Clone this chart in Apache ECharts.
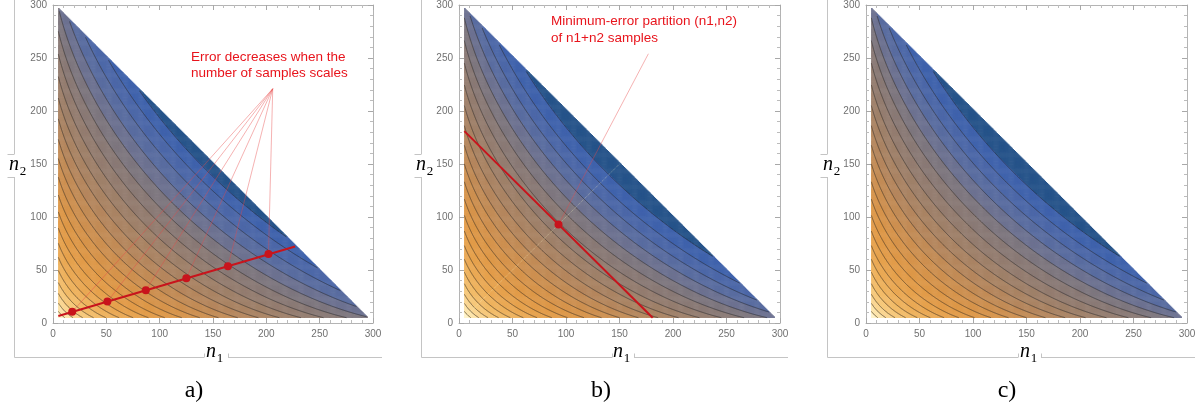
<!DOCTYPE html>
<html>
<head>
<meta charset="utf-8">
<script src="https://cdn.jsdelivr.net/npm/echarts@6/dist/echarts.min.js"></script>
<style>
html, body { margin: 0; padding: 0; background: #fff; }
#chart { width: 1203px; height: 410px; }
</style>
</head>
<body>
<div id="chart"></div>
<script>
// panel frames (pixels) and captions
var panelLeft = [53, 459, 866];
var panelWidth = [320, 321, 321];
var panelTop = 3, panelHeight = 320;
var captions = ['a)', 'b)', 'c)'];
var axisMax = 300, nMin = 5, nSum = 300;

// contour levels, read as the point where each contour crosses the diagonal n1 = n2
var diagA = [7.8, 11.1, 14.8, 18.8, 23.2, 27.9, 32.8, 38.1, 43.7, 49.5, 55.6, 61.9, 68.4, 75.3, 82.3, 89.5, 97, 104.6, 112.6, 120.7, 129, 137, 144];
var diagB = [7.8, 11, 14.5, 18.4, 22.6, 27.2, 32, 37.1, 42.5, 48.1, 54, 60.1, 66.4, 73, 79.8, 86.7, 94, 101.5, 109.1, 116.9, 124.5, 132, 140];
var diagC = [7.8, 11, 14.5, 18.4, 22.6, 27.2, 32, 37.1, 42.5, 48.1, 54, 60.1, 66.4, 73, 79.8, 86.7, 94, 101.5, 109.1, 116.9, 124.5, 132, 140];
// curvature of the contour family n1^a + n2^a = const
var shapeExp = [0.64, 0.64, 0.64];

// one colour per band, from the small-sample corner to the hypotenuse
var bandColors = ['#fff2c8', '#fde4aa', '#fad591', '#f6c87b', '#f2bc6a', '#eeb25e', '#eaa955', '#e6a24e',
    '#e29c4a', '#dd9849', '#d6944c', '#cd9051', '#c28c57', '#b5875e', '#aa8464', '#9f806a',
    '#947d70', '#8a7a76', '#7e777f', '#6d7291', '#5a6da0', '#4d68a8', '#4063ac', '#27548a'];

// panel a annotations
var lineA = [[5, 6.6], [227, 72.2]];
var dotsA = [[18, 10.5], [51, 20.2], [87, 30.8], [125, 42.1], [164, 53.6], [202, 65]];
var apexA = [206, 221];
var textA = 'Error decreases when the\nnumber of samples scales';
// panel b annotations
var lineB = [[5, 181], [181, 5]];
var dotB = [93, 93];
var apexB = [177, 254];
var diagLineB = [[5, 5], [150, 150]];
var textB = 'Minimum-error partition (n1,n2)\nof n1+n2 samples';

var diags = [diagA, diagB, diagC];
var cells = nSum - 2 * nMin; // 1-unit cells from 5 to 295
var cats = [];
for (var c = 0; c < cells; c++) cats.push(nMin + c + 0.5);

var levelsOf = function(p) {
    var a = shapeExp[p];
    return diags[p].map(function(d) { return 2 * Math.pow(d, a); });
};

var heatData = function(p) {
    var a = shapeExp[p], lv = levelsOf(p), out = [];
    for (var i = 0; i < cells; i++) {
        for (var j = 0; i + j < cells; j++) {
            var s = Math.pow(cats[i], a) + Math.pow(cats[j], a);
            var k = 0;
            while (k < lv.length && s > lv[k]) k++;
            out.push([i, j, k]);
        }
    }
    return out;
};

var contourLines = function(p) {
    var a = shapeExp[p], res = [];
    levelsOf(p).forEach(function(L) {
        var at = function(u) { return [Math.pow(u * L, 1 / a), Math.pow((1 - u) * L, 1 / a)]; };
        var inside = function(q) { return q[0] >= nMin && q[1] >= nMin && q[0] + q[1] <= nSum; };
        var pts = [], steps = 900, prevU = 0, prevIn = inside(at(0));
        for (var s = 1; s <= steps; s++) {
            var u = s / steps, cin = inside(at(u));
            if (cin !== prevIn) {
                var lo = prevU, hi = u;
                for (var it = 0; it < 30; it++) {
                    var mid = (lo + hi) / 2;
                    if (inside(at(mid)) === prevIn) lo = mid; else hi = mid;
                }
                pts.push(at((lo + hi) / 2));
            }
            if (cin) pts.push(at(u));
            prevU = u;
            prevIn = cin;
        }
        if (pts.length > 1) res.push({ coords: pts });
    });
    return res;
};

var frameAxis = function(grid, pos, labels) {
    return {
        type: 'value', gridIndex: grid, position: pos, min: 0, max: axisMax, interval: 50,
        axisLine: { show: true, onZero: false, lineStyle: { color: '#b4b4b4', width: 1 } },
        axisTick: { show: true, inside: true, length: 5, lineStyle: { color: '#a8a8a8' } },
        minorTick: { show: true, splitNumber: 5, length: 3, lineStyle: { color: '#bcbcbc' } },
        axisLabel: { show: labels, color: '#707070', fontSize: 10, margin: 6, fontFamily: 'Liberation Sans' },
        splitLine: { show: false }
    };
};

var option = {
    animation: false,
    backgroundColor: '#fff',
    grid: [], xAxis: [], yAxis: [], series: [], graphic: [],
    visualMap: {
        type: 'continuous', show: false, dimension: 2, min: 0, max: bandColors.length - 1,
        seriesIndex: [], inRange: { color: bandColors }
    }
};

var red = '#c8141c', redText = '#e8141c', redThin = 'rgba(230,70,70,0.6)';

for (var p = 0; p < 3; p++) {
    var L = panelLeft[p], W = panelWidth[p];
    option.grid.push({ left: L, top: panelTop, width: W, height: panelHeight });
    option.grid.push({
        left: L + W * nMin / axisMax, top: panelTop + panelHeight * nMin / axisMax,
        width: W * cells / axisMax, height: panelHeight * cells / axisMax
    });
    option.xAxis.push(frameAxis(2 * p, 'bottom', true), frameAxis(2 * p, 'top', false),
        { type: 'category', gridIndex: 2 * p + 1, data: cats, show: false });
    option.yAxis.push(frameAxis(2 * p, 'left', true), frameAxis(2 * p, 'right', false),
        { type: 'category', gridIndex: 2 * p + 1, data: cats, show: false });

    option.visualMap.seriesIndex.push(option.series.length);
    option.series.push({
        type: 'heatmap', xAxisIndex: 3 * p + 2, yAxisIndex: 3 * p + 2,
        data: heatData(p), progressive: 0, silent: true, z: 1
    });
    option.series.push({
        type: 'lines', coordinateSystem: 'cartesian2d', xAxisIndex: 3 * p, yAxisIndex: 3 * p,
        polyline: true, silent: true, z: 3, data: contourLines(p),
        lineStyle: { color: 'rgba(30,30,30,0.5)', width: 1, opacity: 1 }
    });

    if (p === 0) {
        option.series.push({
            type: 'lines', coordinateSystem: 'cartesian2d', xAxisIndex: 0, yAxisIndex: 0, silent: true, z: 4,
            data: dotsA.map(function(d) { return { coords: [apexA, d] }; }),
            lineStyle: { color: redThin, width: 0.7, opacity: 1 }
        });
        option.series.push({
            type: 'line', xAxisIndex: 0, yAxisIndex: 0, data: lineA, showSymbol: false, silent: true, z: 5,
            lineStyle: { color: red, width: 2 }
        });
        option.series.push({
            type: 'scatter', xAxisIndex: 0, yAxisIndex: 0, data: dotsA, symbolSize: 8, silent: true, z: 6,
            itemStyle: { color: red, opacity: 1 }
        });
    }
    if (p === 1) {
        option.series.push({
            type: 'line', xAxisIndex: 3, yAxisIndex: 3, data: diagLineB, showSymbol: false, silent: true, z: 4,
            lineStyle: { color: 'rgba(255,250,200,0.4)', width: 1, type: 'dotted' }
        });
        option.series.push({
            type: 'lines', coordinateSystem: 'cartesian2d', xAxisIndex: 3, yAxisIndex: 3, silent: true, z: 4,
            data: [{ coords: [dotB, apexB] }],
            lineStyle: { color: redThin, width: 0.7, opacity: 1 }
        });
        option.series.push({
            type: 'line', xAxisIndex: 3, yAxisIndex: 3, data: lineB, showSymbol: false, silent: true, z: 5,
            lineStyle: { color: red, width: 2 }
        });
        option.series.push({
            type: 'scatter', xAxisIndex: 3, yAxisIndex: 3, data: [dotB], symbolSize: 8, silent: true, z: 6,
            itemStyle: { color: red, opacity: 1 }
        });
    }
}

// frame labels n1 / n2 with their bracket lines, and captions
var bracketX = [14, 421, 827];
var bracketRight = [382, 788, 1195];
var bracketGap = [[204, 228], [612, 634], [1018, 1041]];
var n1Pos = [211, 618, 1025];
var n2Pos = [14, 421, 828];
var captionX = [194, 601, 1007];
var gapTop = 154, gapBottom = 177, bracketY = 357;

var seg = function(x1, y1, x2, y2) {
    return { type: 'line', silent: true, shape: { x1: x1, y1: y1, x2: x2, y2: y2 },
        style: { stroke: '#c4c4c4', lineWidth: 1 } };
};
var txt = function(s, x, y, font, extra) {
    var st = { text: s, x: x, y: y, font: font, fill: '#000', align: 'center', verticalAlign: 'middle' };
    for (var k in extra) st[k] = extra[k];
    return { type: 'text', silent: true, z: 10, style: st };
};

for (var q = 0; q < 3; q++) {
    var bx = bracketX[q] + 0.5, by = bracketY + 0.5;
    option.graphic.push(
        seg(bx, 0, bx, gapTop), seg(bx, gapBottom, bx, by),
        seg(bx - 7, gapTop + 0.5, bx, gapTop + 0.5), seg(bx - 7, gapBottom + 0.5, bx, gapBottom + 0.5),
        seg(bx, by, bracketGap[q][0], by), seg(bracketGap[q][1], by, bracketRight[q], by),
        seg(bracketGap[q][0] + 0.5, by, bracketGap[q][0] + 0.5, by - 4),
        seg(bracketGap[q][1] + 0.5, by, bracketGap[q][1] + 0.5, by - 4)
    );
    option.graphic.push(
        txt('n', n1Pos[q], 352, 'italic 20px "Liberation Serif"'),
        txt('1', n1Pos[q] + 9, 359, '13px "Liberation Serif"'),
        txt('n', n2Pos[q], 165, 'italic 20px "Liberation Serif"'),
        txt('2', n2Pos[q] + 9, 172, '13px "Liberation Serif"'),
        txt(captions[q], captionX[q], 391, '24px "Liberation Serif"')
    );
}
option.graphic.push(
    txt(textA, 191, 49, '13.5px "Liberation Sans"', { fill: redText, align: 'left', verticalAlign: 'top', lineHeight: 16 }),
    txt(textB, 551, 13, '13.5px "Liberation Sans"', { fill: redText, align: 'left', verticalAlign: 'top', lineHeight: 17 })
);

var chart = echarts.init(document.getElementById('chart'));
chart.setOption(option);
</script>
</body>
</html>
